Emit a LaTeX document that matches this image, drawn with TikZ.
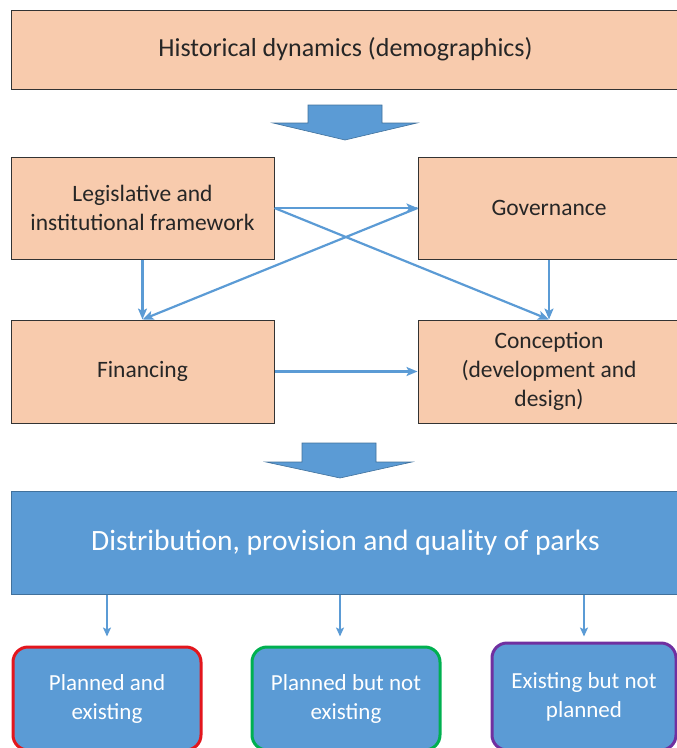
\documentclass[tikz,border=0pt]{standalone}
\usepackage{fontspec}
\setmainfont{Carlito}
\usetikzlibrary{arrows.meta,calc}
\definecolor{peach}{HTML}{F8CBAD}
\definecolor{obl}{HTML}{5B9BD5}
\definecolor{oblb}{HTML}{41719C}
\definecolor{ored}{HTML}{E3161D}
\definecolor{ogreen}{HTML}{00B050}
\definecolor{opurple}{HTML}{7030A0}
\tikzset{
  pbox/.style={draw=black!80,line width=1pt,fill=peach,inner sep=0pt,align=center,font=\fontsize{23.5}{29}\selectfont,text=black!85},
  bbox/.style={draw=oblb,line width=1pt,fill=obl,inner sep=0pt,align=center,text=white},
  rbox/.style={line width=3pt,fill=obl,rounded corners=15pt,inner sep=0pt,align=center,text=white,font=\fontsize{23}{29}\selectfont,minimum width=188pt,minimum height=103pt},
  conn/.style={draw=obl,line width=2.2pt,-{Stealth[length=11pt,width=9pt,inset=2.5pt]}},
  sconn/.style={draw=obl,line width=1.8pt,-{Stealth[length=9pt,width=8pt,inset=2pt]}},
  blockarrow/.style={fill=obl,draw=oblb,line width=0.6pt}
}
\begin{document}
\begin{tikzpicture}[x=1pt,y=-1pt]
\useasboundingbox (0,0) rectangle (677,748);
\clip (0,0) rectangle (677,748);
% top box
\node[pbox,minimum width=669pt,minimum height=79pt,font=\fontsize{26}{30}\selectfont] (hist) at (345.5,49.5) {Historical dynamics (demographics)};
% block arrow 1
\draw[blockarrow] (308,105) -- (382,105) -- (382,123) -- (417,123) -- (345,140) -- (273,123) -- (308,123) -- cycle;
% middle boxes
\node[pbox,minimum width=263pt,minimum height=102pt] (leg) at (142.5,208) {Legislative and\\institutional framework};
\node[pbox,minimum width=262pt,minimum height=102pt] (gov) at (549,208) {Governance};
\node[pbox,minimum width=263pt,minimum height=103pt] (fin) at (142.5,371.5) {Financing};
\node[pbox,minimum width=262pt,minimum height=103pt] (conc) at (549,371.5) {Conception\\(development and\\design)};
% connectors
\draw[conn] (leg.east) -- (gov.west);
\draw[conn] (leg.east) -- (conc.north);
\draw[conn] (gov.west) -- (fin.north);
\draw[conn] (leg.south) -- (fin.north);
\draw[conn] (gov.south) -- (conc.north);
\draw[conn] (fin.east) -- (conc.west);
% block arrow 2
\draw[blockarrow] (302,443) -- (376,443) -- (376,462) -- (412,462) -- (340,478) -- (266,462) -- (302,462) -- cycle;
% blue box
\node[bbox,minimum width=669pt,minimum height=103pt,font=\fontsize{29.5}{34}\selectfont] (dist) at (345.5,542.5) {Distribution, provision and quality of parks};
% bottom boxes
\node[rbox,draw=ored] (pe) at (107,698.5) {Planned and\\existing};
\node[rbox,draw=ogreen] (pn) at (346,698.5) {Planned but not\\existing};
\node[rbox,draw=opurple,minimum width=184pt,minimum height=107pt] (en) at (584,696.5) {Existing but not\\planned};
% small arrows
\draw[sconn] (dist.south -| pe.north) -- ([yshift=9pt]pe.north);
\draw[sconn] ([xshift=-6pt]dist.south -| pn.north) -- ([xshift=-6pt,yshift=9pt]pn.north);
\draw[sconn] (dist.south -| en.north) -- ([yshift=5pt]en.north);
\end{tikzpicture}
\end{document}
